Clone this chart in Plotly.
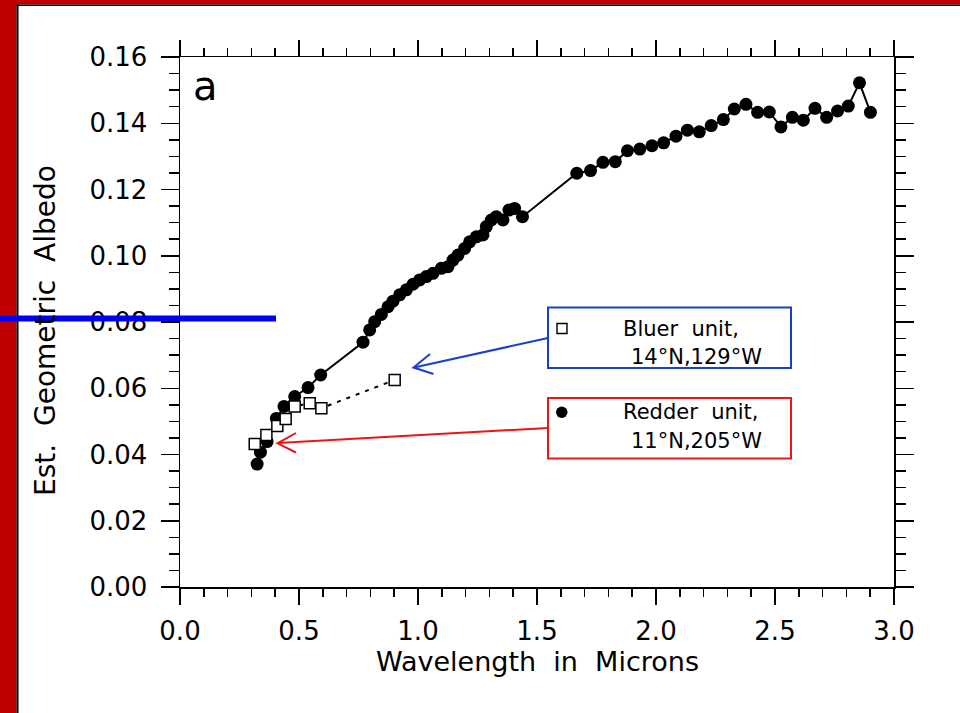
import plotly.graph_objects as go

# ---------------- data ----------------
redder_x = [0.324, 0.338, 0.366, 0.405, 0.437, 0.482, 0.538, 0.591, 0.769, 0.797,
            0.818, 0.846, 0.874, 0.895, 0.923, 0.951, 0.979, 1.007, 1.035, 1.063,
            1.098, 1.126, 1.147, 1.168, 1.196, 1.217, 1.245, 1.273, 1.287, 1.308,
            1.329, 1.357, 1.382, 1.406, 1.439, 1.667, 1.725, 1.777, 1.829, 1.880,
            1.932, 1.983, 2.032, 2.084, 2.132, 2.182, 2.232, 2.283, 2.329, 2.378,
            2.427, 2.476, 2.525, 2.573, 2.619, 2.668, 2.717, 2.763, 2.808, 2.855,
            2.901]
redder_y = [0.0371, 0.0407, 0.0439, 0.0509, 0.0545, 0.0575, 0.0602, 0.0640, 0.0739, 0.0776,
            0.0801, 0.0823, 0.0846, 0.0863, 0.0882, 0.0897, 0.0914, 0.0927, 0.0937, 0.0947,
            0.0962, 0.0967, 0.0987, 0.1002, 0.1022, 0.1042, 0.1057, 0.1063, 0.1088, 0.1108,
            0.1118, 0.1108, 0.1138, 0.1143, 0.1118, 0.1249, 0.1257, 0.1282, 0.1284, 0.1317,
            0.1322, 0.1332, 0.1341, 0.1361, 0.1379, 0.1374, 0.1393, 0.1411, 0.1443, 0.1457,
            0.1433, 0.1434, 0.1389, 0.1418, 0.1409, 0.1445, 0.1418, 0.1437, 0.1452, 0.1522,
            0.1433]

bluer_x = [0.314, 0.363, 0.409, 0.444, 0.482, 0.545, 0.594, 0.902]
bluer_y = [0.0432, 0.0459, 0.0486, 0.0507, 0.0545, 0.0555, 0.0540, 0.0625]

x_range = [0, 3.0]
y_range = [0, 0.16]

panel_label = "a"
x_title = "Wavelength\u00a0\u00a0in\u00a0\u00a0Microns"
y_title = "Est.\u00a0\u00a0Geometric\u00a0\u00a0Albedo"
bluer_label = ["Bluer\u00a0\u00a0unit,", "14°N,129°W"]
redder_label = ["Redder\u00a0\u00a0unit,", "11°N,205°W"]

# ---------------- layout geometry ----------------
FIG_W, FIG_H = 960, 713
ML, MR, MT, MB = 180, 66, 57, 126
PW = FIG_W - ML - MR
PH = FIG_H - MT - MB


def px(x):
    return (x - ML) / PW


def py(y):
    return (FIG_H - MB - y) / PH


FONT = "DejaVu Sans, Verdana, sans-serif"
BLUE_BOX = "#1840C8"
RED_BOX = "#F01414"

fig = go.Figure()

fig.add_trace(go.Scatter(
    x=redder_x, y=redder_y, mode="lines+markers",
    line=dict(color="black", width=2),
    marker=dict(symbol="circle", size=13, color="black"),
    showlegend=False, hoverinfo="skip"))

fig.add_trace(go.Scatter(
    x=bluer_x, y=bluer_y, mode="lines+markers",
    line=dict(color="black", width=2, dash="4px,6px"),
    marker=dict(symbol="square", size=11, color="white",
                line=dict(color="black", width=1.5)),
    showlegend=False, hoverinfo="skip"))

shapes = []
# red frame on the left and top with a thin black inner border
shapes.append(dict(type="rect", xref="paper", yref="paper",
                   x0=px(0), x1=px(16.5), y0=py(FIG_H), y1=py(0),
                   fillcolor="#C00000", line=dict(width=0), layer="below"))
shapes.append(dict(type="rect", xref="paper", yref="paper",
                   x0=px(0), x1=px(FIG_W), y0=py(4.5), y1=py(0),
                   fillcolor="#C00000", line=dict(width=0), layer="below"))
shapes.append(dict(type="line", xref="paper", yref="paper",
                   x0=px(17.5), x1=px(17.5), y0=py(4.5), y1=py(FIG_H),
                   line=dict(color="black", width=2)))
shapes.append(dict(type="line", xref="paper", yref="paper",
                   x0=px(16.5), x1=px(FIG_W), y0=py(5.3), y1=py(5.3),
                   line=dict(color="black", width=1.6)))
# blue horizontal bar
shapes.append(dict(type="line", xref="paper", yref="paper",
                   x0=px(0), x1=px(276), y0=py(318.5), y1=py(318.5),
                   line=dict(color="#0000F0", width=6)))
# legend boxes
shapes.append(dict(type="rect", xref="paper", yref="paper",
                   x0=px(548), x1=px(791), y0=py(368), y1=py(307.5),
                   fillcolor="rgba(0,0,0,0)", line=dict(color=BLUE_BOX, width=2)))
shapes.append(dict(type="rect", xref="paper", yref="paper",
                   x0=px(548), x1=px(791), y0=py(458.5), y1=py(398),
                   fillcolor="rgba(0,0,0,0)", line=dict(color=RED_BOX, width=2)))
# legend glyphs
shapes.append(dict(type="rect", xref="paper", yref="paper",
                   x0=px(557), x1=px(567), y0=py(333.5), y1=py(323.5),
                   fillcolor="white", line=dict(color="black", width=1.4)))
shapes.append(dict(type="circle", xref="paper", yref="paper",
                   x0=px(556), x1=px(567.5), y0=py(418), y1=py(406.5),
                   fillcolor="black", line=dict(color="black", width=0)))
# arrows (open chevron heads)
shapes.append(dict(type="line", xref="paper", yref="paper",
                   x0=px(548), x1=px(414), y0=py(338), y1=py(367.5),
                   line=dict(color=BLUE_BOX, width=2)))
shapes.append(dict(type="path", xref="paper", yref="paper",
                   path="M {} {} L {} {} L {} {}".format(px(430), py(354), px(413.5), py(367.5), px(433.5), py(374)),
                   line=dict(color=BLUE_BOX, width=2)))
shapes.append(dict(type="line", xref="paper", yref="paper",
                   x0=px(548), x1=px(278), y0=py(428), y1=py(443),
                   line=dict(color=RED_BOX, width=2)))
shapes.append(dict(type="path", xref="paper", yref="paper",
                   path="M {} {} L {} {} L {} {}".format(px(296), py(433), px(277.5), py(443.3), px(296), py(452.5)),
                   line=dict(color=RED_BOX, width=2)))

annotations = []
annotations.append(dict(text=panel_label, xref="paper", yref="paper",
                        x=px(205.5), y=py(86), xanchor="center", yanchor="middle",
                        showarrow=False, font=dict(size=40, family=FONT, color="black")))
annotations.append(dict(text=x_title, xref="paper", yref="paper",
                        x=px(537.5), y=py(661), xanchor="center", yanchor="middle",
                        showarrow=False, font=dict(size=27, family=FONT, color="black")))
annotations.append(dict(text=y_title, xref="paper", yref="paper",
                        x=px(45), y=py(331), xanchor="center", yanchor="middle",
                        textangle=-90, showarrow=False,
                        font=dict(size=28, family=FONT, color="black")))
for lbl, cy in ((bluer_label, (328.5, 357.5)), (redder_label, (411.5, 440.5))):
    annotations.append(dict(text=lbl[0], xref="paper", yref="paper",
                            x=px(621), y=py(cy[0]), xanchor="left", yanchor="middle",
                            showarrow=False, font=dict(size=21, family=FONT, color="black")))
    annotations.append(dict(text=lbl[1], xref="paper", yref="paper",
                            x=px(629), y=py(cy[1]), xanchor="left", yanchor="middle",
                            showarrow=False, font=dict(size=21, family=FONT, color="black")))

axis_common = dict(showgrid=False, zeroline=False, showline=True, linecolor="black",
                   linewidth=1.5, mirror="ticks", ticks="outside", tickcolor="black",
                   tickwidth=1.5, tickfont=dict(size=26, family=FONT, color="black"))

fig.update_layout(
    width=FIG_W, height=FIG_H,
    margin=dict(l=ML, r=MR, t=MT, b=MB, pad=0),
    paper_bgcolor="white", plot_bgcolor="white",
    shapes=shapes, annotations=annotations,
    xaxis=dict(range=x_range, tickmode="linear", tick0=0, dtick=0.5, tickformat=".1f",
               ticklen=16, ticklabelstandoff=4,
               minor=dict(dtick=0.1, ticklen=8, tickwidth=1.5, tickcolor="black", ticks="outside"),
               **axis_common),
    yaxis=dict(range=y_range, tickmode="linear", tick0=0, dtick=0.02, tickformat=".2f",
               ticklen=18, ticklabelstandoff=8,
               minor=dict(dtick=0.005, ticklen=10, tickwidth=1.5, tickcolor="black", ticks="outside"),
               **axis_common),
)

fig.write_html(
    "out.html",
    config={"displayModeBar": False, "staticPlot": True},
    post_script="document.body.style.margin='0px';document.body.style.overflow='hidden';",
)
